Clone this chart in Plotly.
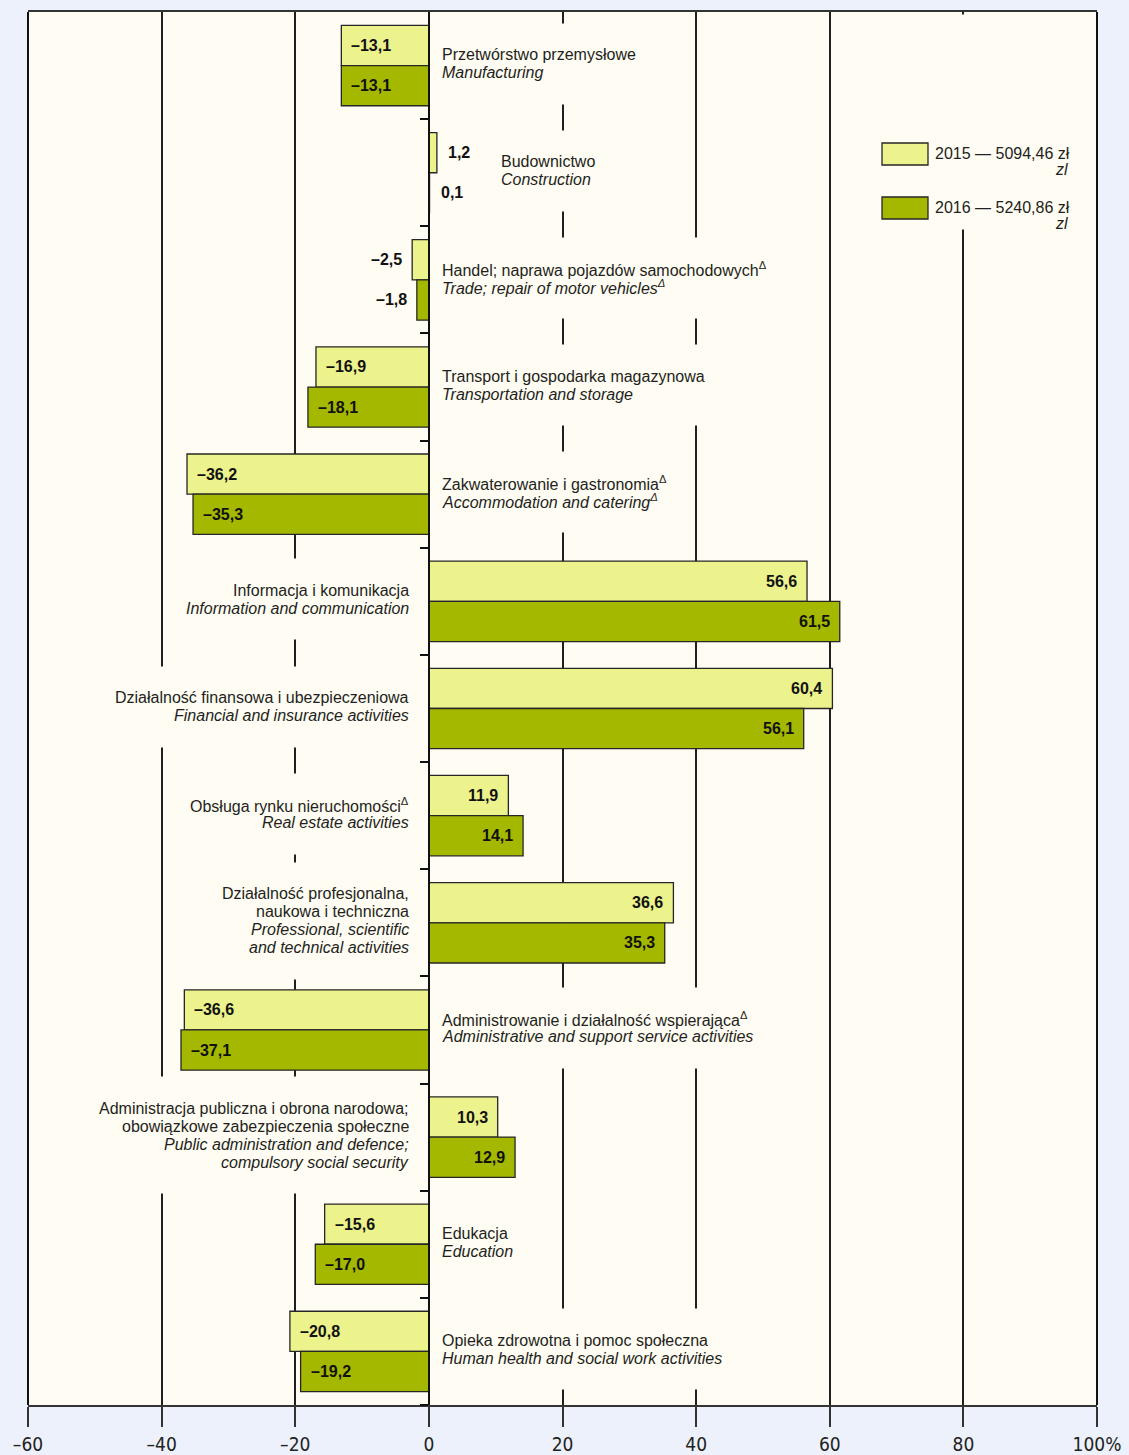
import plotly.graph_objects as go

# sectors, top to bottom: Polish lines, English lines
LABELS_PL = [
    ["Przetwórstwo przemysłowe"],
    ["Budownictwo"],
    ["Handel; naprawa pojazdów samochodowych<sup>Δ</sup>"],
    ["Transport i gospodarka magazynowa"],
    ["Zakwaterowanie i gastronomia<sup>Δ</sup>"],
    ["Informacja i komunikacja"],
    ["Działalność finansowa i ubezpieczeniowa"],
    ["Obsługa rynku nieruchomości<sup>Δ</sup>"],
    ["Działalność profesjonalna,", "naukowa i techniczna"],
    ["Administrowanie i działalność wspierająca<sup>Δ</sup>"],
    ["Administracja publiczna i obrona narodowa;", "obowiązkowe zabezpieczenia społeczne"],
    ["Edukacja"],
    ["Opieka zdrowotna i pomoc społeczna"],
]
LABELS_EN = [
    ["Manufacturing"],
    ["Construction"],
    ["Trade; repair of motor vehicles<sup>Δ</sup>"],
    ["Transportation and storage"],
    ["Accommodation and catering<sup>Δ</sup>"],
    ["Information and communication"],
    ["Financial and insurance activities"],
    ["Real estate activities"],
    ["Professional, scientific", "and technical activities"],
    ["Administrative and support service activities"],
    ["Public administration and defence;", "compulsory social security"],
    ["Education"],
    ["Human health and social work activities"],
]
VALUES_2015 = [-13.1, 1.2, -2.5, -16.9, -36.2, 56.6, 60.4, 11.9, 36.6, -36.6, 10.3, -15.6, -20.8]
VALUES_2016 = [-13.1, 0.1, -1.8, -18.1, -35.3, 61.5, 56.1, 14.1, 35.3, -37.1, 12.9, -17.0, -19.2]
SERIES = ["2015 — 5094,46 zł", "2016 — 5240,86 zł"]
SERIES_SUB = ["zl", "zl"]
X_TICKS = [-60, -40, -20, 0, 20, 40, 60, 80, 100]
X_TICK_TEXT = ["–60", "–40", "–20", "0", "20", "40", "60", "80", "100%"]

PAGE_BG = "#ECF1FB"
PLOT_BG = "#FFFCF3"
COLORS = ["#ECF28C", "#A5B800"]
OUTLINE = "#262626"
TEXT = "#231f20"
FONT = "Liberation Sans, Arial, sans-serif"
NARROW = "Liberation Sans Narrow, Arial Narrow, DejaVu Sans Condensed, sans-serif"
BARGAP = 0.25
LINE_H = 18

n = len(VALUES_2015)
pos = list(range(n))
half = (1 - BARGAP) / 4  # offset of each bar centre from category centre


def fmt(v):
    s = f"{abs(v):.1f}".replace(".", ",")
    return ("–" + s) if v < 0 else s


fig = go.Figure()
for name, vals, col in zip(SERIES, [VALUES_2015, VALUES_2016], COLORS):
    fig.add_trace(go.Bar(
        y=pos, x=vals, orientation="h", name=name,
        marker=dict(color=col, line=dict(color=OUTLINE, width=1.3)),
        showlegend=False, hoverinfo="x",
    ))

ann = []

# value labels
for k, vals in enumerate([VALUES_2015, VALUES_2016]):
    dy = -half if k == 0 else half
    for i, v in enumerate(vals):
        if abs(v) >= 5:
            xa, xs = ("left", 8) if v < 0 else ("right", -8)
        else:
            xa, xs = ("right", -8) if v < 0 else ("left", 9)
        ann.append(dict(
            x=v, y=i + dy, xref="x", yref="y", text=f"<b>{fmt(v)}</b>",
            showarrow=False, xanchor=xa, xshift=xs,
            font=dict(family=FONT, size=16, color="#111"),
        ))

# sector labels, each line separately for tight spacing, with a cover box behind
for i in range(n):
    lines = LABELS_PL[i] + [f"<i>{t}</i>" for t in LABELS_EN[i]]
    vmax = max(VALUES_2015[i], VALUES_2016[i])
    if vmax >= 5:
        x0, xa, xs, al = 0, "right", -18, "right"
    elif vmax > 0:
        x0, xa, xs, al = vmax, "left", 62, "left"
    else:
        x0, xa, xs, al = 0, "left", 11, "left"
    m = len(lines)
    base = 2
    ann.append(dict(
        x=x0, y=i, xref="x", yref="y", text="<br>".join(lines), showarrow=False,
        xanchor=xa, xshift=xs, yshift=base, align=al, height=m * LINE_H + 40,
        bgcolor=PLOT_BG, borderpad=2,
        font=dict(family=FONT, size=16, color="rgba(0,0,0,0)"),
    ))
    for j, t in enumerate(lines):
        ann.append(dict(
            x=x0, y=i, xref="x", yref="y", text=t, showarrow=False,
            xanchor=xa, xshift=xs, yshift=base + ((m - 1) / 2 - j) * LINE_H,
            font=dict(family=FONT, size=16, color=TEXT),
        ))

# legend
plot_w, plot_h = 1069, 1393
ann.append(dict(
    x=(1073 - 28) / plot_w, y=1, xref="paper", yref="paper", text=" ",
    showarrow=False, xanchor="right", yanchor="top", yshift=-2,
    width=140, height=214, bgcolor=PLOT_BG, borderpad=0,
))
shapes = []
for k, (name, sub, col) in enumerate(zip(SERIES, SERIES_SUB, COLORS)):
    top = 143 + 54 * k
    shapes.append(dict(
        type="rect", xref="paper", yref="paper",
        x0=(882 - 28) / plot_w, x1=(928 - 28) / plot_w,
        y0=(1405 - top - 22) / plot_h, y1=(1405 - top) / plot_h,
        fillcolor=col, line=dict(color=OUTLINE, width=1.3), layer="above",
    ))
    ann.append(dict(
        x=(1072 - 28) / plot_w, y=(1405 - top - 10) / plot_h, xref="paper", yref="paper",
        text=name, showarrow=False, xanchor="right", yanchor="middle",
        font=dict(family=FONT, size=16, color=TEXT),
    ))
    ann.append(dict(
        x=(1070 - 28) / plot_w, y=(1405 - top - 27) / plot_h, xref="paper", yref="paper",
        text=f"<i>{sub}</i>", showarrow=False, xanchor="right", yanchor="middle",
        font=dict(family=FONT, size=16, color=TEXT),
    ))

# left / right frame
for xp in (0, 1):
    shapes.append(dict(type="line", xref="paper", yref="paper", x0=xp, x1=xp, y0=0, y1=1,
                       line=dict(color="#111", width=2), layer="above"))

fig.update_layout(
    width=1129, height=1455,
    margin=dict(l=28, r=32, t=12, b=50),
    paper_bgcolor=PAGE_BG, plot_bgcolor=PLOT_BG,
    barmode="group", bargap=BARGAP, bargroupgap=0,
    annotations=ann, shapes=shapes,
    xaxis=dict(
        range=[-60, 100], tickvals=X_TICKS, ticktext=X_TICK_TEXT,
        ticks="outside", ticklen=20, tickwidth=1.5, tickcolor="#333",
        showgrid=True, gridcolor="#1f1f1f", gridwidth=1.5,
        showline=True, linecolor="#333", linewidth=2, mirror=True,
        zeroline=False, ticklabelstandoff=1, automargin=False,
        tickfont=dict(family=NARROW, size=19, color="#222"),
    ),
    yaxis=dict(
        range=[n - 0.5, -0.5], tickvals=[i + 0.5 for i in range(n)],
        ticks="outside", ticklen=8, tickwidth=2, tickcolor="#111",
        showticklabels=False, showgrid=False, zeroline=False,
        showline=True, linecolor="#111", linewidth=2,
        anchor="free", position=60 / 160, automargin=False,
    ),
)

fig.write_html(
    "out.html",
    config={"displayModeBar": False, "responsive": False},
    post_script=(
        "document.body.style.margin='0';"
        f"document.body.style.background='{PAGE_BG}';"
        "document.body.style.overflow='hidden';"
        "document.documentElement.style.overflow='hidden';"
    ),
)
